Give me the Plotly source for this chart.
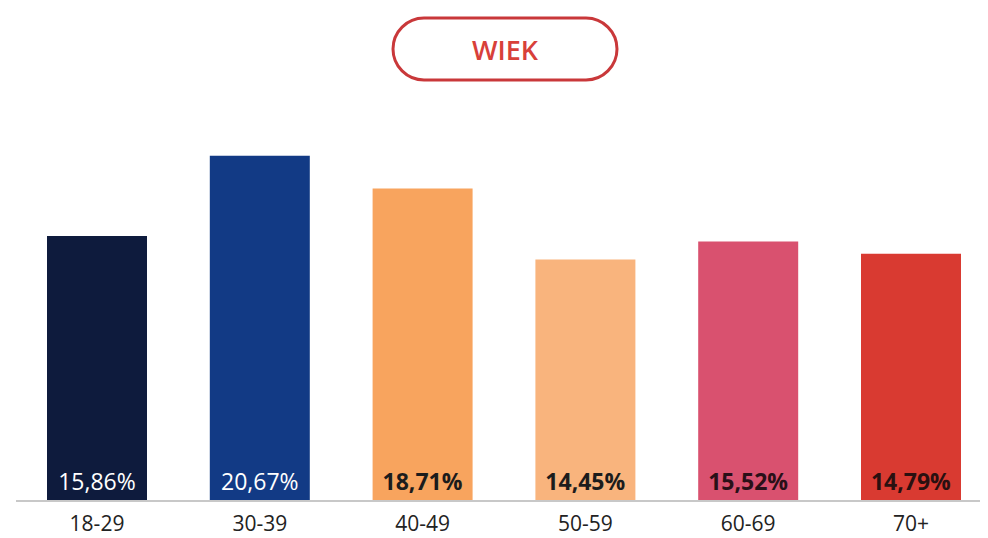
import plotly.graph_objects as go

categories = ["18-29", "30-39", "40-49", "50-59", "60-69", "70+"]
values = [15.86, 20.67, 18.71, 14.45, 15.52, 14.79]
value_labels = ["15,86%", "20,67%", "18,71%", "14,45%", "15,52%", "14,79%"]
bar_colors = ["#0e1b3d", "#123a85", "#f8a45e", "#f9b47d", "#d9516f", "#d93a31"]
label_colors = ["#ffffff", "#ffffff", "#1c1c1c", "#1c1c1c", "#2a1018", "#2a1010"]
label_bold = [False, False, True, True, True, True]
title_text = "WIEK"

texts = [f"<b>{t}</b>" if b else t for t, b in zip(value_labels, label_bold)]

# page has an 8px body margin; figure coordinates = reference - 8
W, H = 980, 528
ML, MT, MB = 8, 0, 36
plot_w = W - ML
plot_h = H - MT - MB

fig = go.Figure(go.Bar(
    x=categories,
    y=values,
    marker=dict(color=bar_colors, line=dict(width=0)),
    text=texts,
    textposition="inside",
    insidetextanchor="start",
    textangle=0,
    textfont=dict(size=23, color=label_colors, family="Open Sans"),
    constraintext="none",
    hoverinfo="skip",
))

k = 17.1
r = 31
hw = 112
path = (f"M {-hw + r},{-r} L {hw - r},{-r} "
        f"C {hw - r + k},{-r} {hw},{-k} {hw},0 "
        f"C {hw},{k} {hw - r + k},{r} {hw - r},{r} "
        f"L {-hw + r},{r} "
        f"C {-hw + r - k},{r} {-hw},{k} {-hw},0 "
        f"C {-hw},{-k} {-hw + r - k},{-r} {-hw + r},{-r} Z")

cx = (505 - 8 - ML) / plot_w
cy = 1 - (49 - 8 - MT) / plot_h
fig.add_shape(
    type="path", xref="paper", yref="paper",
    xsizemode="pixel", ysizemode="pixel",
    xanchor=cx, yanchor=cy,
    path=path,
    line=dict(color="#c9383a", width=3),
    fillcolor="rgba(0,0,0,0)",
)
fig.add_annotation(
    x=cx, y=cy, xref="paper", yref="paper",
    text=title_text, showarrow=False,
    font=dict(size=27, color="#d8403a", family="Open Sans", weight=600),
    xanchor="center", yanchor="middle",
)

cat_px = 162.8
x_lo = -(97 - 16) / cat_px
x_hi = x_lo + plot_w / cat_px

fig.update_layout(
    width=W, height=H,
    margin=dict(l=ML, r=0, t=MT, b=MB, pad=0, autoexpand=False),
    paper_bgcolor="white", plot_bgcolor="white",
    bargap=1 - 100 / cat_px,
    showlegend=False,
    font=dict(family="Open Sans", color="#222222"),
)
fig.update_xaxes(
    showline=True, linecolor="#c8c8c8", linewidth=2,
    showgrid=False, ticks="", ticklabelstandoff=4, automargin=False,
    tickfont=dict(size=21, color="#222222", family="Open Sans"),
    range=[x_lo, x_hi],
)
fig.update_yaxes(visible=False, range=[0, plot_h / 16.65], showgrid=False,
                 automargin=False)

fig.write_html("out.html")
